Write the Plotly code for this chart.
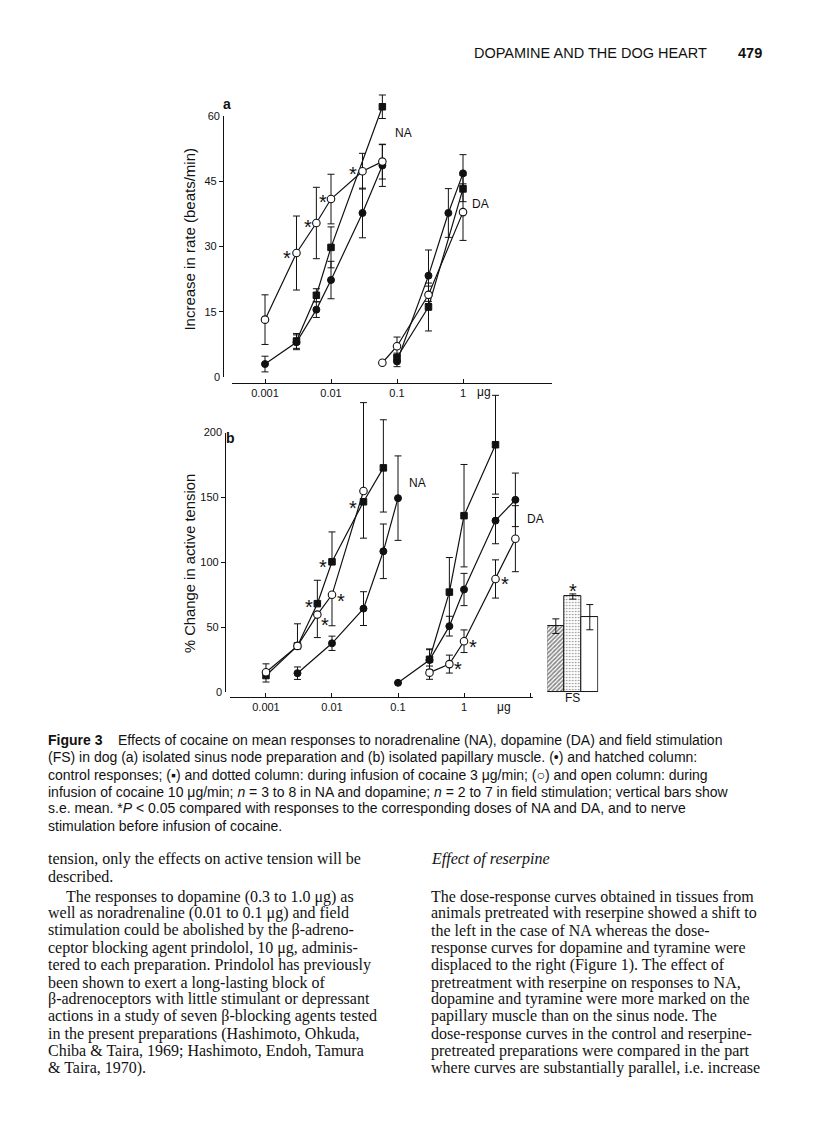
import math
import plotly.graph_objects as go

# Page photographed at 816x1147; the HTML body keeps an 8 px margin,
# so the figure is 800x1131 and page pixels are shifted by 8.
PAGE_W, PAGE_H = 816, 1147
OFF = 8
W, H = PAGE_W - 2 * OFF, PAGE_H - 2 * OFF

# ---------------- data ----------------
# Panel a: increase in rate (beats/min), dose in ug
a_na_ctrl_dose = [0.001, 0.003, 0.006, 0.01, 0.03, 0.06]
a_na_ctrl_val = [3.0, 8.0, 15.5, 22.3, 37.7, 48.6]
a_na_ctrl_err = [1.8, 1.7, 1.8, 4.3, 5.7, 4.8]

a_na_c3_dose = [0.003, 0.006, 0.01, 0.06]
a_na_c3_val = [8.3, 18.8, 29.8, 62.1]
a_na_c3_err = [1.7, 1.5, 4.7, 2.7]

a_na_c10_dose = [0.001, 0.003, 0.006, 0.01, 0.03, 0.06]
a_na_c10_val = [13.2, 28.5, 35.4, 40.9, 47.3, 49.5]
a_na_c10_err = [5.7, 8.5, 8.2, 5.7, 4.1, 4.0]

a_da_ctrl_dose = [0.1, 0.3, 0.6, 1]
a_da_ctrl_val = [3.6, 23.3, 37.7, 46.8]
a_da_ctrl_err = [1.2, 5.9, 5.6, 4.3]

a_da_c3_dose = [0.1, 0.3, 1]
a_da_c3_val = [4.5, 16.1, 43.3]
a_da_c3_err = [1.0, 5.5, 3.0]

a_da_c10_dose = [0.06, 0.1, 0.3, 1]
a_da_c10_val = [3.3, 7.1, 18.9, 37.9]
a_da_c10_err = [0.0, 2.1, 2.0, 6.5]

# Panel b: % change in active tension
b_na_ctrl_dose = [0.003, 0.01, 0.03, 0.06, 0.1]
b_na_ctrl_val = [14.8, 37.8, 64.5, 108.6, 149.5]
b_na_ctrl_err = [4.8, 5.5, 13.0, 21.0, 32.5]

b_na_c3_dose = [0.001, 0.003, 0.006, 0.01, 0.03, 0.06]
b_na_c3_val = [13.0, 35.8, 68.3, 100.5, 146.7, 172.8]
b_na_c3_err_up = [9.0, 17.0, 18.0, 23.0, 0.0, 37.0]
b_na_c3_err_dn = [5.0, 0.0, 0.0, 0.0, 28.0, 34.0]

b_na_c10_dose = [0.001, 0.003, 0.006, 0.01, 0.03]
b_na_c10_val = [15.5, 35.8, 59.9, 75.1, 155.0]
b_na_c10_err_up = [0.0, 0.0, 0.0, 0.0, 68.0]
b_na_c10_err_dn = [0.0, 0.0, 17.7, 23.8, 0.0]

b_da_ctrl_dose = [0.1, 0.3, 0.6, 1, 3, 6]
b_da_ctrl_val = [7.4, 24.9, 51.0, 79.2, 132.2, 148.2]
b_da_ctrl_err = [0.0, 8.0, 7.6, 12.4, 17.8, 20.6]

b_da_c3_dose = [0.3, 0.6, 1, 3]
b_da_c3_val = [25.5, 77.2, 136.0, 190.6]
b_da_c3_err = [8.0, 26.6, 39.4, 38.0]

b_da_c10_dose = [0.3, 0.6, 1, 3, 6]
b_da_c10_val = [15.2, 21.8, 39.4, 87.3, 118.3]
b_da_c10_err = [5.1, 6.9, 8.7, 14.7, 25.4]

# Field stimulation columns (panel b)
fs_groups = ["control", "cocaine 3 \u00b5g/min", "cocaine 10 \u00b5g/min"]
fs_val = [51.0, 73.8, 57.9]
fs_err = [5.6, 2.0, 9.7]

a_yticks_mid = [15, 30, 45]
a_yticks_end = [0, 60]
b_yticks_mid = [50, 100, 150]
b_yticks_end = [0, 200]
a_xticks = [0.001, 0.01, 0.1, 1]
a_xticklabels = ["0.001", "0.01", "0.1", "1"]
b_xticks = [0.001, 0.01, 0.1, 1, 10]
b_xticklabels = ["0.001", "0.01", "0.1", "1", ""]

# ---------------- styling ----------------
SANS = "Liberation Sans, Arial, sans-serif"
SERIF = "Liberation Serif, Times New Roman, serif"
INK = "#111111"

STYLE = {
    "ctrl": dict(symbol="circle", size=7, color=INK, line=dict(color=INK, width=1)),
    "c3": dict(symbol="square", size=6.5, color=INK, line=dict(color=INK, width=1)),
    "c10": dict(symbol="circle", size=7.5, color="white", line=dict(color=INK, width=1.1)),
}


def px(x):
    return (x - OFF) / W


def py(y):
    return 1 - (y - OFF) / H


fig = go.Figure()


def add_series(dose, val, kind, xa, ya, err=None, err_up=None, err_dn=None):
    if err is not None:
        ey = dict(type="data", array=err, color=INK, thickness=1, width=3.5)
    else:
        ey = dict(type="data", symmetric=False, array=err_up, arrayminus=err_dn,
                  color=INK, thickness=1, width=3.5)
    fig.add_trace(go.Scatter(
        x=dose, y=val, xaxis=xa, yaxis=ya, mode="lines+markers",
        line=dict(color=INK, width=1.2), marker=STYLE[kind],
        error_y=ey, cliponaxis=False, hoverinfo="skip"))


def axis_carrier(xa, ya):
    fig.add_trace(go.Scatter(x=[None], y=[None], xaxis=xa, yaxis=ya, mode="markers",
                             hoverinfo="skip", showlegend=False))


# panel a (data on an unlined axis reaching a little above 60)
add_series(a_na_ctrl_dose, a_na_ctrl_val, "ctrl", "x", "y", err=a_na_ctrl_err)
add_series(a_na_c3_dose, a_na_c3_val, "c3", "x", "y", err=a_na_c3_err)
add_series(a_na_c10_dose, a_na_c10_val, "c10", "x", "y", err=a_na_c10_err)
add_series(a_da_ctrl_dose, a_da_ctrl_val, "ctrl", "x", "y", err=a_da_ctrl_err)
add_series(a_da_c3_dose, a_da_c3_val, "c3", "x", "y", err=a_da_c3_err)
add_series(a_da_c10_dose, a_da_c10_val, "c10", "x", "y", err=a_da_c10_err)
axis_carrier("x", "y4")
axis_carrier("x", "y6")

# panel b (data on an unlined axis reaching above 200)
add_series(b_na_ctrl_dose, b_na_ctrl_val, "ctrl", "x2", "y2", err=b_na_ctrl_err)
add_series(b_na_c3_dose, b_na_c3_val, "c3", "x2", "y2", err_up=b_na_c3_err_up, err_dn=b_na_c3_err_dn)
add_series(b_na_c10_dose, b_na_c10_val, "c10", "x2", "y2", err_up=b_na_c10_err_up, err_dn=b_na_c10_err_dn)
add_series(b_da_ctrl_dose, b_da_ctrl_val, "ctrl", "x2", "y2", err=b_da_ctrl_err)
add_series(b_da_c3_dose, b_da_c3_val, "c3", "x2", "y2", err=b_da_c3_err)
add_series(b_da_c10_dose, b_da_c10_val, "c10", "x2", "y2", err=b_da_c10_err)
axis_carrier("x2", "y5")
axis_carrier("x2", "y7")

# FS columns
fig.add_trace(go.Bar(
    x=fs_groups, y=fs_val, xaxis="x3", yaxis="y2",
    marker=dict(color="white", line=dict(color=INK, width=1),
                pattern=dict(shape=["/", ".", ""], fgcolor=INK, bgcolor="white",
                             size=3, solidity=[0.55, 0.22, 0.3])),
    error_y=dict(type="data", array=fs_err, color=INK, thickness=1, width=3.5),
    hoverinfo="skip", cliponaxis=False))

tickfont = dict(family=SANS, size=11, color=INK)
common_axis = dict(showgrid=False, zeroline=False, tickcolor=INK, tickwidth=1, tickfont=tickfont)
line_axis = dict(showline=True, linecolor=INK, linewidth=1.2, **common_axis)

A_ZERO, A_TOP = 375.0, 111.0           # page px of 0 and 60 in panel a
A_SCALE = (A_ZERO - A_TOP) / 60.0
A_DATA_TOP = 88.0
B_ZERO, B_TOP = 693.7, 431.0           # page px of 0 and 200 in panel b
B_SCALE = (B_ZERO - B_TOP) / 200.0
B_DATA_TOP = 380.0

fig.update_layout(
    width=W, height=H, margin=dict(l=0, r=0, t=0, b=0),
    paper_bgcolor="white", plot_bgcolor="rgba(0,0,0,0)", showlegend=False, bargap=0,
    xaxis=dict(type="log", domain=[px(232), px(552)], range=[-3.5, 1.3485],
               anchor="free", position=py(381), ticks="inside", ticklen=4,
               tickmode="array", tickvals=a_xticks, ticktext=a_xticklabels, **line_axis),
    yaxis=dict(domain=[py(A_ZERO), py(A_DATA_TOP)], range=[0, (A_ZERO - A_DATA_TOP) / A_SCALE],
               anchor="free", position=px(223), visible=False, showgrid=False, zeroline=False),
    yaxis4=dict(domain=[py(A_ZERO), py(A_TOP)], range=[0, 60], anchor="free", position=px(223),
                ticks="outside", ticklen=4, tickmode="array", tickvals=a_yticks_mid, **line_axis),
    yaxis6=dict(overlaying="y4", range=[0, 60], anchor="free", position=px(223), side="left",
                showline=False, ticks="inside", ticklen=5, tickmode="array",
                tickvals=a_yticks_end, ticklabelstandoff=3, **common_axis),
    xaxis2=dict(type="log", domain=[px(230), px(533)], range=[-3.545, 1.045],
                anchor="free", position=py(698), ticks="inside", ticklen=4,
                tickmode="array", tickvals=b_xticks, ticktext=b_xticklabels, **line_axis),
    yaxis2=dict(domain=[py(B_ZERO), py(B_DATA_TOP)], range=[0, (B_ZERO - B_DATA_TOP) / B_SCALE],
                anchor="free", position=px(225), visible=False, showgrid=False, zeroline=False),
    yaxis5=dict(domain=[py(B_ZERO), py(B_TOP)], range=[0, 200], anchor="free", position=px(225),
                ticks="outside", ticklen=4, tickmode="array", tickvals=b_yticks_mid, **line_axis),
    yaxis7=dict(overlaying="y5", range=[0, 200], anchor="free", position=px(225), side="left",
                showline=False, ticks="inside", ticklen=5, tickmode="array",
                tickvals=b_yticks_end, ticklabelstandoff=3, **common_axis),
    xaxis3=dict(domain=[px(547.3), px(598.3)], anchor="y2", type="category",
                showline=False, showgrid=False, zeroline=False, ticks="",
                showticklabels=False),
)

ann = []


def text(x, y, s, size=12, family=SANS, xanchor="left", bold=False, angle=0, yanchor="middle"):
    ann.append(dict(x=px(x), y=py(y), xref="paper", yref="paper",
                    text=(f"<b>{s}</b>" if bold else s),
                    showarrow=False, xanchor=xanchor, yanchor=yanchor, textangle=angle,
                    borderpad=0, font=dict(family=family, size=size, color=INK)))


# panel labels / axis titles
text(227, 99, "a", size=14, xanchor="center", bold=True)
text(230, 437, "b", size=14, xanchor="center", bold=True)
text(190, 236, "Increase in rate (beats/min)", size=15, xanchor="center", angle=-90)
text(190, 564, "% Change in active tension", size=14.8, xanchor="center", angle=-90)
text(403, 128, "NA", size=12, xanchor="center")
text(480, 200, "DA", size=12, xanchor="center")
text(417, 482, "NA", size=12, xanchor="center")
text(535, 518, "DA", size=12, xanchor="center")
text(484, 390, "\u03bcg", size=12, xanchor="center")
text(504, 708, "\u03bcg", size=12, xanchor="center")
text(572, 699, "FS", size=12, xanchor="center")

# asterisks (attached to data points)
stars = [
    ("x", "y", 0.003, 28.5, -9, -3.5),
    ("x", "y", 0.006, 35.4, -8.5, -2.5),
    ("x", "y", 0.01, 40.9, -8.5, -2),
    ("x", "y", 0.03, 47.3, -9, -1.5),
    ("x2", "y2", 0.006, 68.3, -8.5, -2),
    ("x2", "y2", 0.01, 100.5, -9, -4),
    ("x2", "y2", 0.03, 146.7, -10, -5),
    ("x2", "y2", 0.006, 59.9, 7.5, -9.5),
    ("x2", "y2", 0.01, 75.1, 9.5, -5),
    ("x2", "y2", 0.6, 21.8, 8.5, -4),
    ("x2", "y2", 1, 39.4, 8.5, -5),
    ("x2", "y2", 3, 87.3, 9.5, -4.5),
]
for xr, yr, xv, yv, dx, dy in stars:
    ann.append(dict(x=math.log10(xv), y=yv, xref=xr, yref=yr, text="*", showarrow=False,
                    xshift=dx, yshift=dy - 1, xanchor="center", yanchor="middle",
                    font=dict(family=SANS, size=20, color=INK)))
ann.append(dict(x=fs_groups[1], y=fs_val[1], xref="x3", yref="y2", text="*", showarrow=False,
                xshift=0, yshift=5.5, xanchor="center", yanchor="middle",
                font=dict(family=SANS, size=20, color=INK)))

# running header
text(473, 47, "DOPAMINE AND THE DOG HEART", size=14.5)
text(737, 47, "479", size=14.5, bold=True)

# caption
caption = [
    "<b>Figure 3</b>    Effects of cocaine on mean responses to noradrenaline (NA), dopamine (DA) and field stimulation",
    "(FS) in dog (a) isolated sinus node preparation and (b) isolated papillary muscle. (\u2022) and hatched column:",
    "control responses; (\u25aa) and dotted column: during infusion of cocaine 3 \u03bcg/min; (\u25cb) and open column: during",
    "infusion of cocaine 10 \u03bcg/min; <i>n</i> = 3 to 8 in NA and dopamine; <i>n</i> = 2 to 7 in field stimulation; vertical bars show",
    "s.e. mean. *<i>P</i> &lt; 0.05 compared with responses to the corresponding doses of NA and DA, and to nerve",
    "stimulation before infusion of cocaine.",
]
cap_y = [742, 759, 777, 794, 811, 829]
for s, yy in zip(caption, cap_y):
    text(47, yy, s, size=14.0)

BODY = 16.0
left_col = [
    (47, "tension, only the effects on active tension will be"),
    (47, "described."),
    (65, "The responses to dopamine (0.3 to 1.0 \u03bcg) as"),
    (47, "well as noradrenaline (0.01 to 0.1 \u03bcg) and field"),
    (47, "stimulation could be abolished by the \u03b2-adreno-"),
    (47, "ceptor blocking agent prindolol, 10 \u03bcg, adminis-"),
    (47, "tered to each preparation. Prindolol has previously"),
    (47, "been shown to exert a long-lasting block of"),
    (47, "\u03b2-adrenoceptors with little stimulant or depressant"),
    (47, "actions in a study of seven \u03b2-blocking agents tested"),
    (47, "in the present preparations (Hashimoto, Ohkuda,"),
    (47, "Chiba &amp; Taira, 1969; Hashimoto, Endoh, Tamura"),
    (47, "&amp; Taira, 1970)."),
]
left_y = [862, 880, 900, 917, 934, 952, 969, 987, 1004, 1021, 1039, 1056, 1073]
for (xx, s), yy in zip(left_col, left_y):
    text(xx, yy, s, size=BODY, family=SERIF)

right_col = [
    "The dose-response curves obtained in tissues from",
    "animals pretreated with reserpine showed a shift to",
    "the left in the case of NA whereas the dose-",
    "response curves for dopamine and tyramine were",
    "displaced to the right (Figure 1). The effect of",
    "pretreatment with reserpine on responses to NA,",
    "dopamine and tyramine were more marked on the",
    "papillary muscle than on the sinus node. The",
    "dose-response curves in the control and reserpine-",
    "pretreated preparations were compared in the part",
    "where curves are substantially parallel, i.e. increase",
]
right_y = [900, 917, 934, 952, 969, 987, 1004, 1021, 1039, 1056, 1073]
text(430, 862, "<i>Effect of reserpine</i>", size=BODY, family=SERIF)
for s, yy in zip(right_col, right_y):
    text(430, yy, s, size=BODY, family=SERIF)

fig.update_layout(annotations=ann)
fig.write_html("out.html")
